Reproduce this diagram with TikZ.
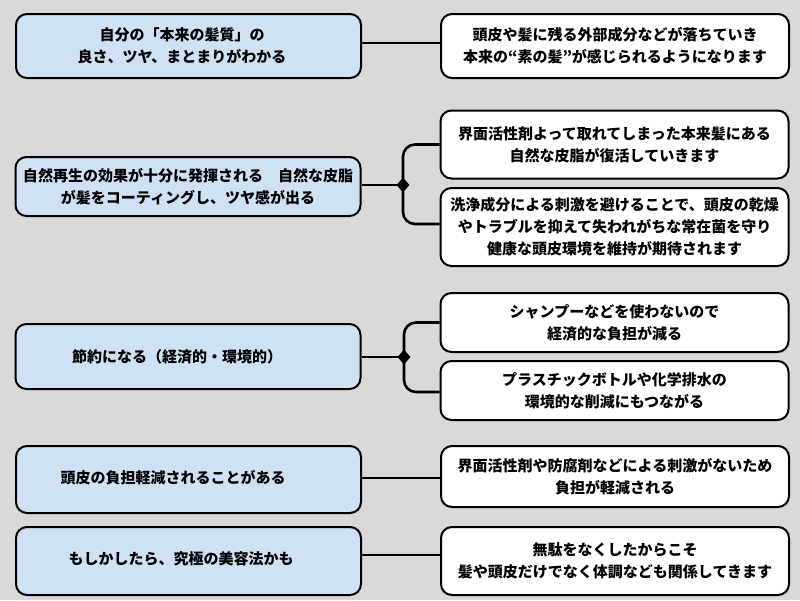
\documentclass[tikz,border=0pt]{standalone}
\usepackage{fontspec}
\setmainfont{Noto Sans CJK JP}
\usetikzlibrary{shapes.geometric}
\definecolor{bg}{HTML}{D9D9D9}
\definecolor{lblue}{HTML}{CFE2F3}
\tikzset{
  box/.style={draw=black, line width=2pt, rounded corners=11pt, align=center,
    inner xsep=2pt, font=\bfseries\fontsize{15}{22}\selectfont},
  lbox/.style={box, fill=lblue, minimum width=345pt},
  rbox/.style={box, fill=white, minimum width=348pt},
  ltxt/.style={align=center, inner sep=0pt, font=\bfseries\fontsize{15}{22}\selectfont},
  conn/.style={line width=2.6pt, draw=black},
  branch/.style={conn, rounded corners=12pt},
  dot/.style={diamond, fill=black, inner sep=0pt, minimum width=13pt, minimum height=15pt}
}
\begin{document}
\begin{tikzpicture}[x=1pt,y=-1pt]
\fill[bg] (0,0) rectangle (800,600);
\useasboundingbox (0,0) rectangle (800,600);

% left boxes
\node[lbox, minimum height=64pt] (l1) at (188.5,46) {};
\node[ltxt] (t1) at (182,46) {自分の「本来の髪質」の\\良さ、ツヤ、まとまりがわかる};
\node[lbox, minimum height=59pt] (l2) at (188,186.5) {};
\node[ltxt] (t2) at (188,186.5) {自然再生の効果が十分に発揮される　自然な皮脂\\が髪をコーティングし、ツヤ感が出る};
\node[lbox, minimum height=65pt] (l3) at (188,356.5) {};
\node[ltxt] (t3) at (177,356.5) {節約になる（経済的・環境的）};
\node[lbox, minimum height=67pt] (l4) at (188.5,479.5) {};
\node[ltxt] (t4) at (173,478) {頭皮の負担軽減されることがある};
\node[lbox, minimum height=68pt] (l5) at (188.5,561) {};
\node[ltxt] (t5) at (181,559) {もしかしたら、究極の美容法かも};

% right boxes
\node[rbox, minimum height=64pt] (r1) at (615,46) {頭皮や髪に残る外部成分などが落ちていき\\本来の“素の髪”が感じられるようになります};
\node[rbox, minimum height=68pt] (r2a) at (614.5,144.5) {界面活性剤よって取れてしまった本来髪にある\\自然な皮脂が復活していきます};
\node[rbox, minimum height=78pt] (r2b) at (614.5,227) {洗浄成分による刺激を避けることで、頭皮の乾燥\\やトラブルを抑えて失われがちな常在菌を守り\\健康な頭皮環境を維持が期待されます};
\node[rbox, minimum height=59pt] (r3a) at (614.5,322.5) {シャンプーなどを使わないので\\経済的な負担が減る};
\node[rbox, minimum height=59pt] (r3b) at (614.5,390.5) {プラスチックボトルや化学排水の\\環境的な削減にもつながる};
\node[rbox, minimum height=61pt] (r4) at (615,476.5) {界面活性剤や防腐剤などによる刺激がないため\\負担が軽減される};
\node[rbox, minimum height=68pt] (r5) at (615,561) {無駄をなくしたからこそ\\髪や頭皮だけでなく体調なども関係してきます};

% connectors
\draw[conn] ([yshift=3pt]l1.east) -- ([yshift=3pt]r1.west);

\coordinate (d2) at (403,185);
\draw[conn] (l2.east |- d2) -- (d2);
\draw[branch] (r2a.west) -| (d2) |- ([yshift=3pt]r2b.west);
\node[dot] (k2) at (d2) {};

\coordinate (d3) at (404,357);
\draw[conn] (l3.east |- d3) -- (d3);
\draw[branch] (r3a.west) -| (d3) |- ([yshift=-1.5pt]r3b.west);
\node[dot] (k3) at (d3) {};

\draw[conn] ([yshift=-1.5pt]l4.east |- r4.west) -- ([yshift=-1.5pt]r4.west);
\draw[conn] ([yshift=6pt]l5.east) -- ([yshift=6pt]r5.west);
\end{tikzpicture}
\end{document}
